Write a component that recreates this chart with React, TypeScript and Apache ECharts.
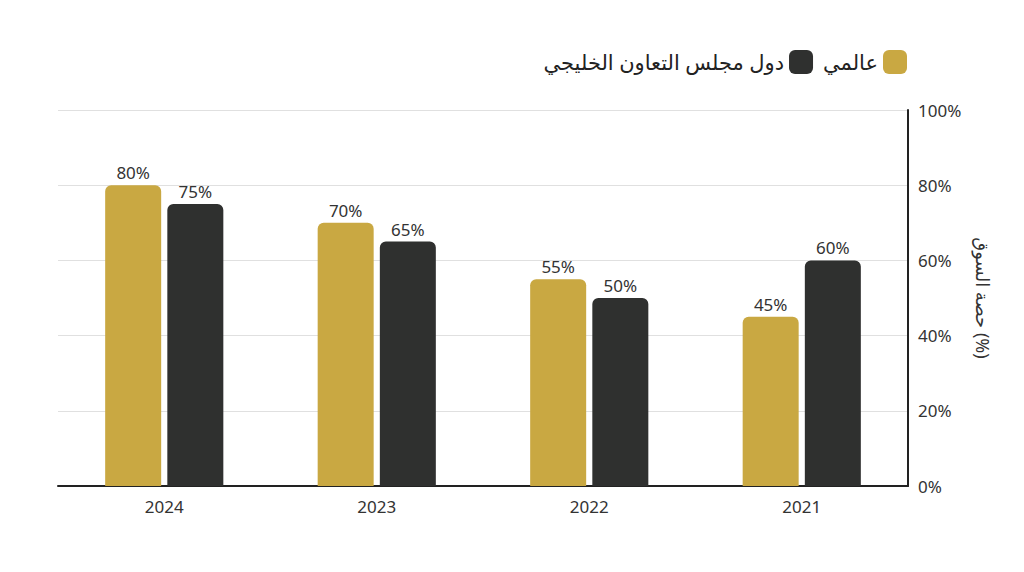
import React, { useEffect, useRef } from "react";
import * as echarts from "echarts";

const years = ["2024", "2023", "2022", "2021"];
const globalShare = [80, 70, 55, 45];
const gccShare = [75, 65, 50, 60];
const yTicks = [0, 20, 40, 60, 80, 100];
const seriesNames = ["عالمي", "دول مجلس التعاون الخليجي"];
const yAxisName = "حصة السوق (%)";

export default function App() {
  const ref = useRef<HTMLDivElement>(null);
  useEffect(() => {
    if (!ref.current) return;
    const chart = echarts.init(ref.current, undefined, { renderer: "svg" });
    const font = "'Noto Sans', 'DejaVu Sans', sans-serif";
    chart.setOption({
      animation: false,
      backgroundColor: "#ffffff",
      textStyle: { fontFamily: font },
      legend: {
        data: [seriesNames[1], seriesNames[0]],
        right: 112,
        top: 45,
        align: "right",
        itemWidth: 24,
        itemHeight: 24,
        itemGap: 10,
        icon: "roundRect",
        textStyle: { fontSize: 21, color: "#222", fontFamily: font },
      },
      grid: { left: 58, right: 116, top: 110, bottom: 86 },
      xAxis: {
        type: "category",
        data: years,
        axisLine: { show: true, lineStyle: { color: "#222", width: 2 } },
        axisTick: { show: false },
        axisLabel: { fontSize: 17, color: "#333", margin: 12 },
      },
      yAxis: {
        type: "value",
        position: "right",
        min: 0,
        max: 100,
        interval: 20,
        name: yAxisName,
        nameLocation: "middle",
        nameRotate: -90,
        nameGap: 66,
        nameTextStyle: { fontSize: 18, color: "#333" },
        axisLine: { show: true, lineStyle: { color: "#222", width: 2 } },
        axisTick: { show: false },
        axisLabel: {
          fontSize: 17,
          color: "#333",
          margin: 10,
          formatter: (v: number) => (yTicks.includes(v) ? v + "%" : ""),
        },
        splitLine: { show: true, lineStyle: { color: "#e0e0e0", width: 1 } },
      },
      series: [
        {
          name: seriesNames[0],
          type: "bar",
          data: globalShare,
          barWidth: 56,
          barGap: "11%",
          itemStyle: { color: "#C9A842", borderRadius: [6, 6, 0, 0] },
          label: { show: true, position: "top", formatter: "{c}%", fontSize: 17, color: "#333", distance: 4 },
        },
        {
          name: seriesNames[1],
          type: "bar",
          data: gccShare,
          barWidth: 56,
          itemStyle: { color: "#2F302F", borderRadius: [6, 6, 0, 0] },
          label: { show: true, position: "top", formatter: "{c}%", fontSize: 17, color: "#333", distance: 4 },
        },
      ],
    });
    return () => chart.dispose();
  }, []);
  return <div ref={ref} style={{ width: 1024, height: 572, position: "absolute", left: 0, top: 0 }} />;
}
